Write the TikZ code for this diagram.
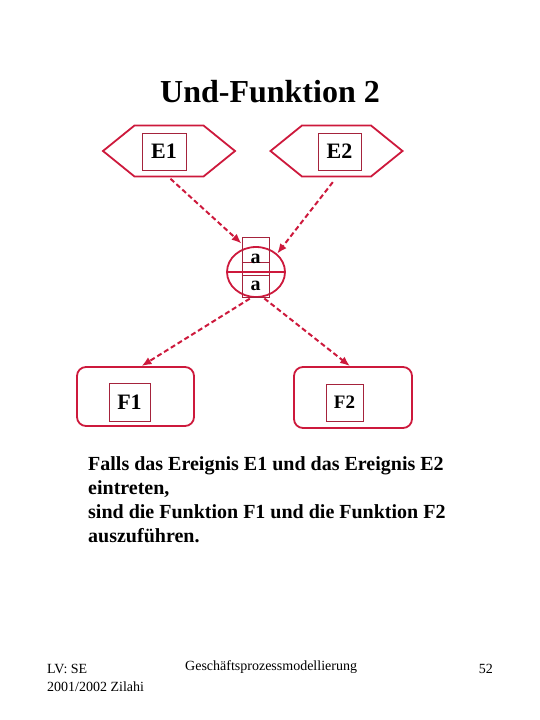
\documentclass[tikz,border=0pt]{standalone}
\usepackage{fontspec}
\setmainfont{Liberation Serif}
\usepackage{tikz}
\usetikzlibrary{positioning,arrows.meta,shapes.geometric,shapes.symbols}
\definecolor{epkred}{RGB}{205,25,60}
\definecolor{boxred}{RGB}{165,35,60}
\tikzset{line/.style={draw=epkred, line width=2pt, dash pattern=on 5pt off 3pt, -{Latex[length=10pt,width=8pt]}, shorten <=2pt}}
\tikzset{ereignis/.style={shape=signal, signal to=west and east, signal pointer angle=78, draw=epkred, line width=1.8pt, minimum width=132pt, minimum height=51pt, inner sep=0pt}}
\tikzset{funktion/.style={draw=epkred, line width=1.8pt, rounded corners=9pt, inner sep=0pt}}
\tikzset{label box/.style={draw=boxred, line width=0.9pt, inner sep=0pt, font=\bfseries\fontsize{22}{24}\selectfont}}

\begin{document}
\begin{tikzpicture}[x=1pt,y=-1pt]
    \useasboundingbox (0,0) rectangle (540,720);
        % Titel
        \node[anchor=base] (titel) at (270,102) {\bfseries\fontsize{32}{36}\selectfont Und-Funktion 2};
        % Ereignisse
        \node[ereignis] (e1) at (169,151) {};
        \node[label box, minimum width=44pt, minimum height=37pt] (e1txt) at (164,151.5) {E1};
        \node[ereignis] (e2) at (336.5,151) {};
        \node[label box, minimum width=43pt, minimum height=37pt] (e2txt) at (339.5,151.5) {E2};
        % Konnektor
        \node[ellipse, draw=epkred, line width=1.8pt, minimum width=58pt, minimum height=50pt, inner sep=0pt] (und) at (256,272) {};
        \node[draw=boxred, line width=0.9pt, minimum width=27pt, minimum height=60pt, inner sep=0pt] (undbox) at (255.5,267) {};
        \draw[epkred, line width=1.8pt] (und.west) -- (und.east);
        \draw[boxred, line width=0.9pt] (undbox.west |- 0,262) -- (undbox.east |- 0,262);
        \draw[boxred, line width=0.9pt] (undbox.west |- 0,275) -- (undbox.east |- 0,275);
        \node[anchor=base, font=\bfseries\fontsize{20}{22}\selectfont] (a1) at (255.5,263) {a};
        \node[anchor=base, font=\bfseries\fontsize{20}{22}\selectfont] (a2) at (255.5,290) {a};
        % Funktionen
        \node[funktion, minimum width=117pt, minimum height=59pt] (f1) at (135.5,396.5) {};
        \node[label box, minimum width=41pt, minimum height=38pt] (f1txt) at (129.5,402) {F1};
        \node[funktion, minimum width=118pt, minimum height=61pt] (f2) at (353,397.5) {};
        \node[label box, minimum width=37pt, minimum height=37pt, font=\bfseries\fontsize{19}{21}\selectfont] (f2txt) at (344.5,402.5) {F2};
        % Kanten
        \draw[line] (e1.south) -- ([yshift=-7pt]undbox.north west);
        \draw[line, shorten <=6pt] (e2.south) -- (und.north east);
        \draw[line] (und.-100) -- ([xshift=6pt]f1.north);
        \draw[line] (und.-75) -- ([xshift=-3pt]f2.north);
        % Text
        \node[anchor=base west, align=left, inner sep=0pt, font=\bfseries\fontsize{20}{24}\selectfont] (regel) at (88,542)
            {Falls das Ereignis E1 und das Ereignis E2\\ eintreten,\\ sind die Funktion F1 und die Funktion F2\\ auszuführen.};
        % Fusszeile
        \node[anchor=base west, align=left, inner sep=0pt, font=\fontsize{14}{18}\selectfont] (lv) at (47,691) {LV: SE\\ 2001/2002 Zilahi};
        \node[anchor=base west, inner sep=0pt, font=\fontsize{14}{18}\selectfont] (fach) at (185,670) {Geschäftsprozessmodellierung};
        \node[anchor=base east, inner sep=0pt, font=\fontsize{14}{18}\selectfont] (seite) at (493,673) {52};
\end{tikzpicture}
\end{document}
